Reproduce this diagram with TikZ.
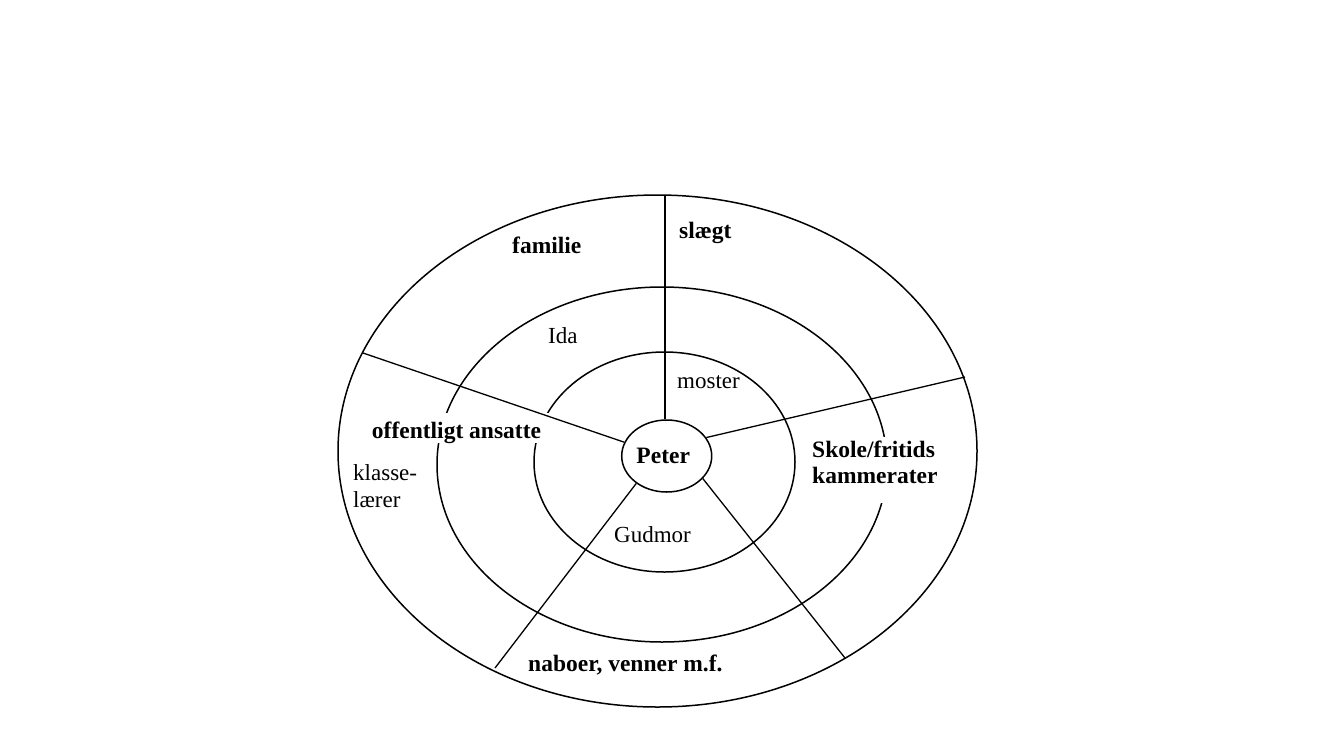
\documentclass[tikz,border=0pt]{standalone}
\usepackage{fontspec}
\setmainfont{Liberation Serif}
\usetikzlibrary{shapes.geometric}
\begin{document}
\begin{tikzpicture}[x=1pt,y=-1pt,
  ring/.style={draw=black,line width=1.5pt},
  spoke/.style={draw=black,line width=1.3pt},
  mainspoke/.style={draw=black,line width=2.2pt},
  lbl/.style={inner sep=0pt,font=\fontsize{23pt}{27pt}\selectfont},
  blbl/.style={inner sep=0pt,font=\fontsize{23.5pt}{26pt}\selectfont\bfseries},
  whitebox/.style={fill=white}]
\useasboundingbox (0,0) rectangle (1333,750);
% rings
\draw[ring] (657.5,451) ellipse [x radius=319.5pt, y radius=256pt];
\draw[ring] (662,464.5) ellipse [x radius=225pt, y radius=177.5pt];
\draw[ring] (664.5,462) ellipse [x radius=130.5pt, y radius=110pt];
% labels
\node[blbl,anchor=base west] (familie) at (512,253) {familie};
\node[blbl,anchor=base west] (slaegt) at (679,238) {slægt};
\node[lbl,anchor=base west] (ida) at (548,343) {Ida};
\node[lbl,anchor=base west] (moster) at (677,388) {moster};
\node[blbl,whitebox,anchor=base,inner xsep=8pt] (offentlig) at (456.5,438) {\rule{0pt}{25pt}offentligt ansatte};
\node[blbl,whitebox,anchor=north west,align=left,inner xsep=2pt,inner ysep=0pt] (skole) at (810,437)
  {\rule{0pt}{20pt}Skole/fritids\\kammerater\rule[-20pt]{0pt}{20pt}};
\node[lbl,anchor=north west,align=left] (klasse) at (353,464.5) {klasse-\\lærer};
\node[lbl,anchor=base west] (gudmor) at (614,542) {Gudmor};
\node[blbl,anchor=base west] (naboer) at (528,671.7) {naboer, venner m.f.};
% centre
\node[ellipse,draw=black,line width=1.5pt,fill=white,inner sep=0pt,
      minimum width=90pt,minimum height=72pt,
      font=\fontsize{23.5pt}{26pt}\selectfont\bfseries] (peter) at (666.7,456) {Peter\hspace*{7pt}};
% spoke ends
\coordinate (top) at (665,195);
\coordinate (lft) at (363,353);
\coordinate (rgt) at (965,377);
\coordinate (bl) at (495,668);
\coordinate (br) at (845,658);
% spokes
\draw[mainspoke] (top) -- (top |- peter.north);
\draw[spoke] (peter.162) -- (lft);
\draw[spoke] (peter.25) -- (rgt);
\draw[spoke] (peter.222) -- (bl);
\draw[spoke] (peter.-32) -- (br);
\end{tikzpicture}
\end{document}
